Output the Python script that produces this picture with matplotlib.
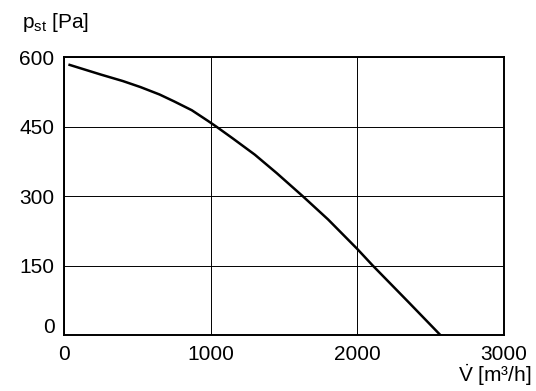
import numpy as np
import matplotlib.pyplot as plt
import matplotlib.transforms as mtransforms

plt.rcParams['font.family'] = ['Liberation Sans', 'DejaVu Sans']
plt.rcParams['mathtext.fontset'] = 'custom'
plt.rcParams['mathtext.rm'] = 'Liberation Sans'
plt.rcParams['mathtext.it'] = 'Liberation Sans'

# fan curve
flow = [36, 250, 400, 520, 650, 750, 870, 980, 1040, 1150, 1300, 1450, 1628, 1800, 2000, 2106, 2350, 2567]
pressure = [584, 563, 549, 536, 520, 505, 486, 463, 450, 425, 390, 350, 300, 250, 186, 150, 71, 0]

xticks = [0, 1000, 2000, 3000]
yticks = [0, 150, 300, 450, 600]

fig = plt.figure(figsize=(5.36, 3.91), dpi=100)
ax = fig.add_axes([0.12, 0.143, 0.82, 0.71])

ax.plot(flow, pressure, color='black', lw=1.8, solid_joinstyle='round')
ax.set_xlim(0, 3000)
ax.set_ylim(0, 600)
ax.set_xticks(xticks)
ax.set_yticks(yticks)
ax.grid(True, color='black', lw=0.7)
ax.tick_params(length=0, labelsize=15, pad=7)
for s in ax.spines.values():
    s.set_linewidth(1.4)

# lift the y "0" a bit so it clears the x "0"
lab0 = ax.get_yticklabels()[0]
lab0.set_transform(lab0.get_transform() + mtransforms.ScaledTranslation(0, 7/72, fig.dpi_scale_trans))

fig.text(22/536, 1 - 22/391, r'$\mathregular{p_{st}}$ [Pa]', fontsize=15, va='center', ha='left')
fig.text(532/536, 1 - 375/391, r'$\mathregular{\dot{V}}$ [m³/h]', fontsize=15, va='center', ha='right')

fig.savefig('out.png', dpi=100)
